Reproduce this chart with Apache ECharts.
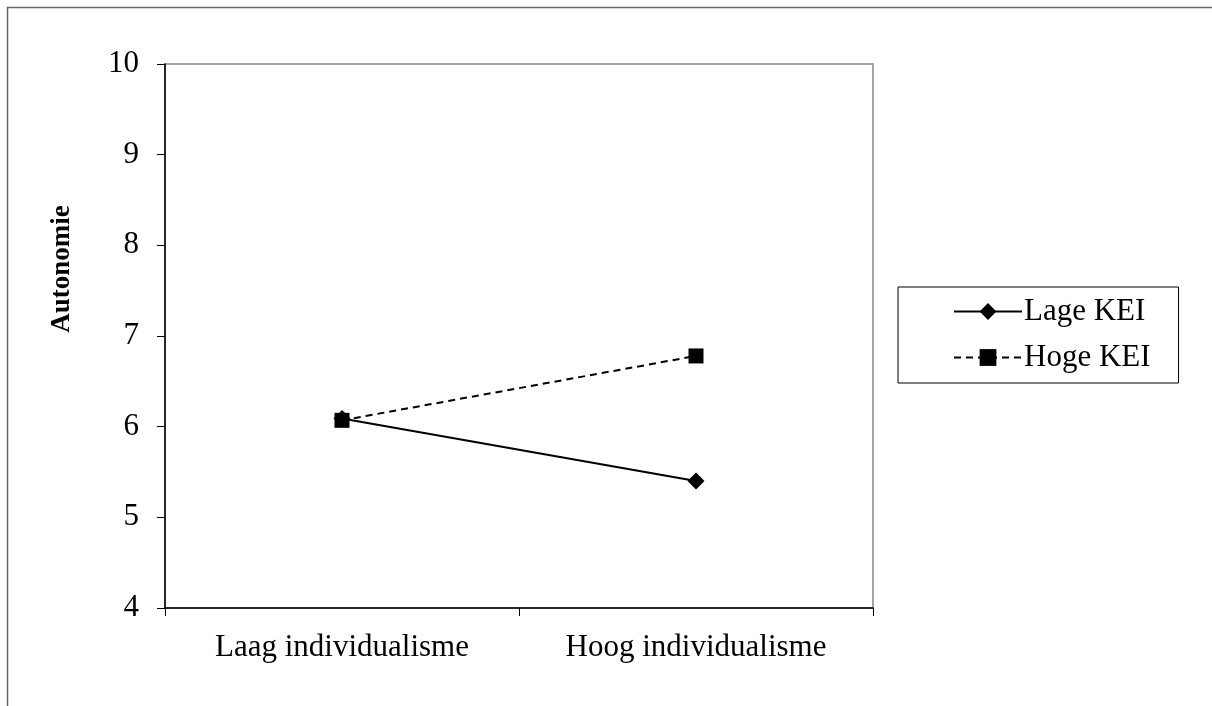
<!DOCTYPE html>
<html>
<head>
<meta charset="utf-8">
<script src="https://cdn.jsdelivr.net/npm/echarts@6/dist/echarts.min.js"></script>
<style>
  html, body { margin: 0; padding: 0; background: #fff; }
  #chart { width: 1212px; height: 706px; }
</style>
</head>
<body>
<div id="chart"></div>
<script>
const categories = ['Laag individualisme', 'Hoog individualisme']
const lageKEI = [6.09, 5.40]
const hogeKEI = [6.07, 6.78]
const yTicks = [4, 5, 6, 7, 8, 9, 10]

const font = '"Liberation Serif", "Times New Roman", serif'
const myChart = echarts.init(document.getElementById('chart'))

myChart.setOption({
  animation: false,
  backgroundColor: '#fff',
  textStyle: { fontFamily: font, color: '#000' },
  graphic: [
    {
      type: 'rect',
      shape: { x: 7.5, y: 7.5, width: 1400, height: 900 },
      style: { fill: 'none', stroke: '#666', lineWidth: 1.5 },
      silent: true
    },
    {
      // y axis title sits above the middle of the axis in the original
      type: 'text',
      x: 62,
      y: 269,
      rotation: Math.PI / 2,
      style: {
        text: 'Autonomie',
        font: 'bold 27px ' + font,
        fill: '#000',
        align: 'center',
        verticalAlign: 'middle'
      },
      silent: true
    }
  ],
  grid: {
    left: 165,
    right: 339,
    top: 64,
    bottom: 98,
    show: true,
    borderColor: '#888',
    borderWidth: 1.5
  },
  legend: {
    orient: 'vertical',
    left: 898,
    top: 287,
    padding: [9, 28, 10, 55],
    itemGap: 15,
    itemWidth: 68,
    itemHeight: 21,
    borderColor: '#000',
    borderWidth: 1,
    textStyle: { fontFamily: font, fontSize: 31, color: '#000', padding: [0, 0, 0, -3] },
    data: ['Lage KEI', 'Hoge KEI']
  },
  xAxis: {
    type: 'category',
    data: categories,
    boundaryGap: true,
    axisLine: { lineStyle: { color: '#000', width: 1.5 } },
    axisTick: { show: true, length: 8, lineStyle: { color: '#000' } },
    axisLabel: { fontFamily: font, fontSize: 31, color: '#000', margin: 24 },
    splitLine: { show: false }
  },
  yAxis: {
    type: 'value',
    min: yTicks[0],
    max: yTicks[yTicks.length - 1],
    interval: 1,
    axisLine: { show: true, lineStyle: { color: '#000', width: 1.5 } },
    axisTick: { show: true, length: 8, lineStyle: { color: '#000' } },
    axisLabel: { fontFamily: font, fontSize: 31, color: '#000', margin: 26 },
    splitLine: { show: false }
  },
  series: [
    {
      name: 'Lage KEI',
      type: 'line',
      data: lageKEI,
      symbol: 'diamond',
      symbolSize: 17,
      itemStyle: { color: '#000' },
      lineStyle: { color: '#000', width: 2 }
    },
    {
      name: 'Hoge KEI',
      type: 'line',
      data: hogeKEI,
      symbol: 'rect',
      symbolSize: 15,
      itemStyle: { color: '#000' },
      lineStyle: { color: '#000', width: 2, type: [7, 5] }
    }
  ]
})
</script>
</body>
</html>
